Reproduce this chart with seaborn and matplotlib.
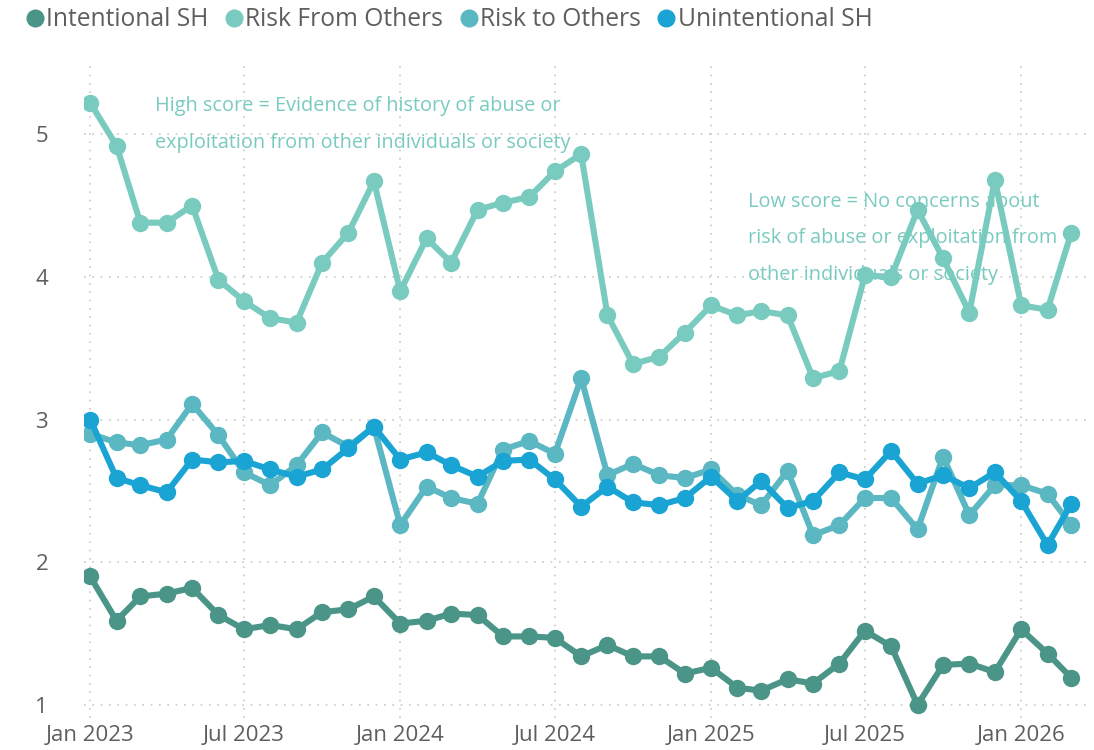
import matplotlib
matplotlib.use("Agg")
import matplotlib.pyplot as plt
import matplotlib.dates as mdates
from matplotlib.lines import Line2D
import numpy as np
import pandas as pd
import seaborn as sns

# Monthly average scores, Jan 2023 - Mar 2026
months = pd.date_range("2023-01-01", "2026-03-01", freq="MS")

intentional_sh = [1.90, 1.59, 1.76, 1.78, 1.82, 1.63, 1.53, 1.56, 1.53, 1.65, 1.67, 1.76,
                  1.57, 1.59, 1.64, 1.63, 1.48, 1.48, 1.47, 1.34, 1.42, 1.34, 1.34, 1.22,
                  1.26, 1.12, 1.10, 1.18, 1.15, 1.29, 1.52, 1.41, 1.00, 1.28, 1.29, 1.23,
                  1.53, 1.36, 1.19]
risk_from_others = [5.22, 4.92, 4.38, 4.38, 4.50, 3.98, 3.83, 3.71, 3.68, 4.10, 4.31, 4.67,
                    3.90, 4.27, 4.10, 4.47, 4.52, 4.56, 4.74, 4.86, 3.73, 3.39, 3.44, 3.61,
                    3.80, 3.73, 3.76, 3.73, 3.29, 3.34, 4.01, 4.00, 4.47, 4.13, 3.75, 4.68,
                    3.80, 3.77, 4.31]
risk_to_others = [2.90, 2.84, 2.82, 2.86, 3.11, 2.89, 2.63, 2.54, 2.68, 2.91, 2.81, 2.95,
                  2.26, 2.53, 2.45, 2.41, 2.79, 2.85, 2.76, 3.29, 2.61, 2.69, 2.61, 2.59,
                  2.65, 2.47, 2.40, 2.64, 2.19, 2.26, 2.45, 2.45, 2.23, 2.74, 2.33, 2.54,
                  2.54, 2.48, 2.26]
unintentional_sh = [3.00, 2.59, 2.54, 2.49, 2.72, 2.70, 2.71, 2.65, 2.60, 2.65, 2.80, 2.95,
                    2.72, 2.77, 2.68, 2.60, 2.71, 2.72, 2.58, 2.39, 2.53, 2.42, 2.40, 2.45,
                    2.60, 2.43, 2.57, 2.38, 2.43, 2.63, 2.58, 2.78, 2.55, 2.61, 2.52, 2.63,
                    2.43, 2.12, 2.41]

series_names = ["Intentional SH", "Risk From Others", "Risk to Others", "Unintentional SH"]
series_values = [intentional_sh, risk_from_others, risk_to_others, unintentional_sh]
colors = ["#4A9587", "#7ACBBF", "#5BB7C1", "#1AA4D4"]

high_note = "High score = Evidence of history of abuse or\nexploitation from other individuals or society"
low_note = "Low score = No concerns about\nrisk of abuse or exploitation from\nother individuals or society"

df = pd.concat(
    [pd.DataFrame({"month": months, "score": vals, "measure": name})
     for name, vals in zip(series_names, series_values)],
    ignore_index=True,
)

sns.set_theme(style="white")
plt.rcParams["font.family"] = ["Open Sans", "DejaVu Sans"]

fig = plt.figure(figsize=(10.94, 7.5), dpi=100)
ax = fig.add_axes([0.077, 0.043, 0.917, 0.877])

palette = dict(zip(series_names, colors))
sns.lineplot(data=df, x="month", y="score", hue="measure", hue_order=series_names,
             palette=palette, marker="o", markersize=12.5, markeredgewidth=0,
             linewidth=4.4, legend=False, ax=ax)

ax.set_xlim(pd.Timestamp("2022-12-25"), pd.Timestamp("2026-03-20"))
ax.set_ylim(0.91, 5.52)
ax.set_yticks([1, 2, 3, 4, 5])
ax.xaxis.set_major_locator(mdates.MonthLocator(bymonth=[1, 7]))
ax.xaxis.set_major_formatter(mdates.DateFormatter("%b %Y"))

ax.grid(True, which="major", color="#C8C8C8", linestyle=(0, (1, 4)), linewidth=1.2)
for s in ax.spines.values():
    s.set_visible(False)
ax.tick_params(axis="both", length=0, colors="#605E5C", labelsize=16)
ax.tick_params(axis="y", pad=26)
ax.tick_params(axis="x", pad=5)
ax.set_xlabel("")
ax.set_ylabel("")

ax.text(0.071, 0.945, high_note, transform=ax.transAxes, color=colors[1],
        fontsize=14.3, va="top", ha="left", linespacing=2.1)
ax.text(0.662, 0.80, low_note, transform=ax.transAxes, color=colors[1],
        fontsize=14.3, va="top", ha="left", linespacing=2.1)

handles = [Line2D([], [], marker="o", linestyle="", color=c, markersize=13,
                  markeredgewidth=0) for c in colors]
fig.legend(handles, series_names, loc="upper left", bbox_to_anchor=(0.007, 1.01),
           ncol=4, frameon=False, handletextpad=-0.05, columnspacing=0.55,
           handlelength=1.0, fontsize=17.7, labelcolor="#605E5C",
           borderaxespad=0.2)

fig.savefig("out.png", dpi=100)
